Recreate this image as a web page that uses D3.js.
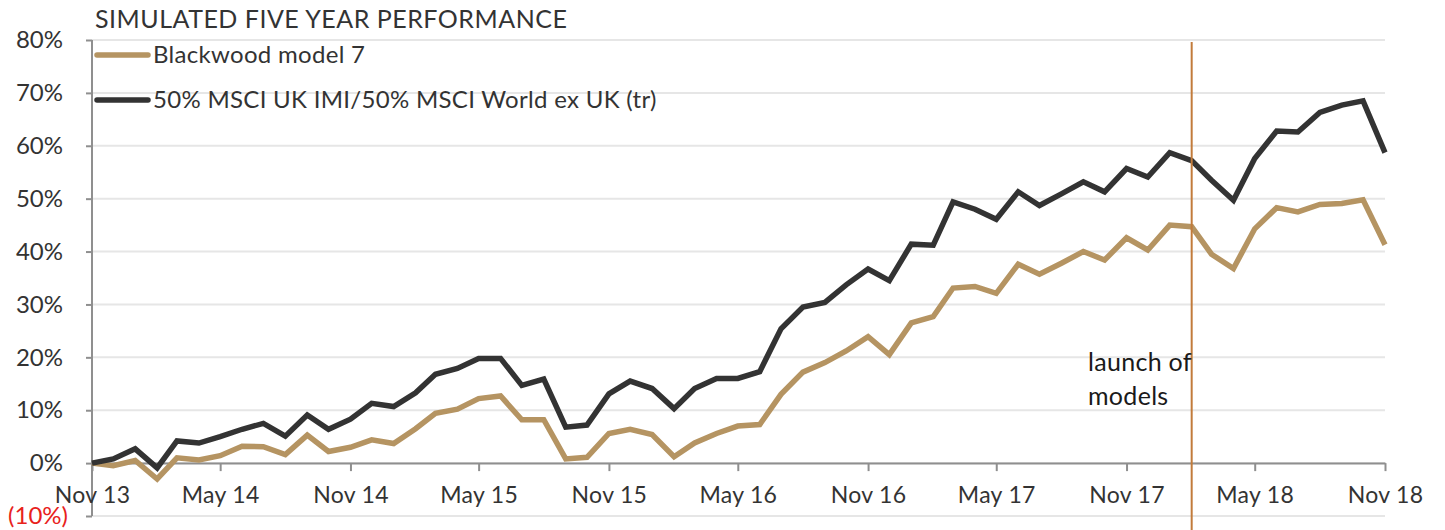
<!DOCTYPE html>
<html>
<head>
<meta charset="utf-8">
<script src="https://cdn.jsdelivr.net/npm/d3@7"></script>
<style>
	body { margin: 0; background: #fff; }
	svg { display: block; font-family: Lato, "Open Sans", sans-serif; }
	.grid line { stroke: #e6e6e6; stroke-width: 2; }
	.axis path, .axis line { stroke: #8f8f8f; stroke-width: 2; }
	.axis text { fill: #333; font-family: Lato, sans-serif; }
	.axis.y text { font-size: 24px; }
	.axis.x text { font-size: 23px; letter-spacing: 0.3px; }
</style>
</head>
<body>
<svg width="1445" height="530"></svg>
<script>
// data, monthly from Nov 13 to Nov 18
const startMonth = new Date(2013, 10, 1)
const endMonth = new Date(2018, 11, 1)
const months = d3.timeMonth.range(startMonth, endMonth)

const blackwood = [0, -0.5, 0.5, -3.0, 1.0, 0.6, 1.4, 3.2, 3.1, 1.6,
	5.3, 2.2, 3.0, 4.4, 3.7, 6.5, 9.4, 10.2, 12.2, 12.7,
	8.2, 8.2, 0.8, 1.1, 5.6, 6.4, 5.4, 1.2, 3.8, 5.6,
	7.0, 7.3, 13.0, 17.2, 19.0, 21.2, 23.9, 20.5, 26.5, 27.7,
	33.1, 33.4, 32.1, 37.6, 35.7, 37.8, 40.0, 38.4, 42.6, 40.3,
	45.0, 44.7, 39.5, 36.8, 44.3, 48.3, 47.5, 48.9, 49.1, 49.8,
	41.3]

const benchmark = [0, 0.8, 2.7, -0.9, 4.2, 3.8, 5.0, 6.4, 7.5, 5.1,
	9.1, 6.4, 8.3, 11.3, 10.7, 13.3, 16.8, 17.9, 19.8, 19.8,
	14.7, 15.9, 6.8, 7.2, 13.1, 15.5, 14.1, 10.3, 14.1, 16.0,
	16.0, 17.3, 25.4, 29.5, 30.4, 33.7, 36.7, 34.5, 41.4, 41.2,
	49.4, 48.0, 46.1, 51.3, 48.7, 50.9, 53.2, 51.3, 55.7, 54.1,
	58.7, 57.2, 53.5, 49.7, 57.6, 62.8, 62.6, 66.3, 67.7, 68.5,
	58.7]

const seriesNames = ["Blackwood model 7", "50% MSCI UK IMI/50% MSCI World ex UK (tr)"]
const seriesColors = ["#b59462", "#333333"]

const xTickLabels = ["Nov 13", "May 14", "Nov 14", "May 15", "Nov 15", "May 16",
	"Nov 16", "May 17", "Nov 17", "May 18", "Nov 18"]
const yTickValues = [-10, 0, 10, 20, 30, 40, 50, 60, 70, 80]

const launchMonth = "Feb 18"
const launchText = ["launch of", "models"]
const title = "SIMULATED FIVE YEAR PERFORMANCE"

const parseMonth = d3.timeParse("%b %y")

const svg = d3.select("svg")

// scales
const xScale = d3.scaleTime()
	.domain([startMonth, months[months.length - 1]])
	.range([92, 1385])

const yScale = d3.scaleLinear()
	.domain([-10, 80])
	.range([516, 40])

// gridlines
svg.append("g")
	.attr("class", "grid")
	.selectAll("line")
	.data(yTickValues)
	.enter()
	.append("line")
	.attr("x1", xScale.range()[0])
	.attr("x2", xScale.range()[1])
	.attr("y1", d => yScale(d))
	.attr("y2", d => yScale(d))

// y axis
const yAxis = d3.axisLeft(yScale)
	.tickValues(yTickValues)
	.tickSize(6)
	.tickPadding(23)
	.tickFormat(d => d < 0 ? "(" + Math.abs(d) + "%)" : d + "%")

const yG = svg.append("g")
	.attr("class", "axis y")
	.attr("transform", "translate(92,0)")
	.call(yAxis)
yG.select(".domain").attr("d", "M0," + yScale(80) + "V" + yScale(-10))
yG.selectAll("text")
	.style("fill", d => d < 0 ? "#e8221c" : "#333")
	.attr("x", d => d < 0 ? -24 : -29)

// x axis sitting on 0%
const xAxis = d3.axisBottom(xScale)
	.tickValues(xTickLabels.map(parseMonth))
	.tickSize(8)
	.tickSizeOuter(0)
	.tickPadding(16)
	.tickFormat(d3.timeFormat("%b %y"))

svg.append("g")
	.attr("class", "axis x")
	.attr("transform", "translate(0," + yScale(0) + ")")
	.call(xAxis)

// lines
const line = d3.line()
	.x((d, i) => xScale(months[i]))
	.y(d => yScale(d))

svg.append("g")
	.attr("class", "paths")
	.selectAll("path")
	.data([blackwood, benchmark])
	.enter()
	.append("path")
	.attr("d", d => line(d))
	.attr("fill", "none")
	.attr("stroke", (d, i) => seriesColors[i])
	.attr("stroke-width", 5.5)

// launch marker
const launchX = xScale(parseMonth(launchMonth))
svg.append("line")
	.attr("x1", launchX)
	.attr("x2", launchX)
	.attr("y1", 42)
	.attr("y2", 530)
	.attr("stroke", "#c27b3b")
	.attr("stroke-width", 2)

svg.append("text")
	.attr("x", 1088)
	.attr("y", 371)
	.attr("font-size", 25)
	.attr("letter-spacing", 0.3)
	.attr("fill", "#1a1a1a")
	.selectAll("tspan")
	.data(launchText)
	.enter()
	.append("tspan")
	.attr("x", 1088)
	.attr("dy", (d, i) => i == 0 ? 0 : 34)
	.text(d => d)

// legend
const legend = svg.append("g")
	.attr("class", "legend")
	.selectAll("g")
	.data(seriesNames)
	.enter()
	.append("g")
	.attr("transform", (d, i) => "translate(97," + (55 + i * 45) + ")")

legend.append("line")
	.attr("x1", 0)
	.attr("x2", 51)
	.attr("stroke", (d, i) => seriesColors[i])
	.attr("stroke-width", 5.5)
	.attr("stroke-linecap", "round")

legend.append("text")
	.attr("x", 56)
	.attr("dy", "0.35em")
	.attr("font-size", 24)
	.attr("letter-spacing", 0.3)
	.attr("fill", "#333")
	.text(d => d)

// title
svg.append("text")
	.attr("x", 95)
	.attr("y", 28)
	.attr("font-size", 25)
	.attr("letter-spacing", 0.5)
	.attr("fill", "#333")
	.text(title)
</script>
</body>
</html>
